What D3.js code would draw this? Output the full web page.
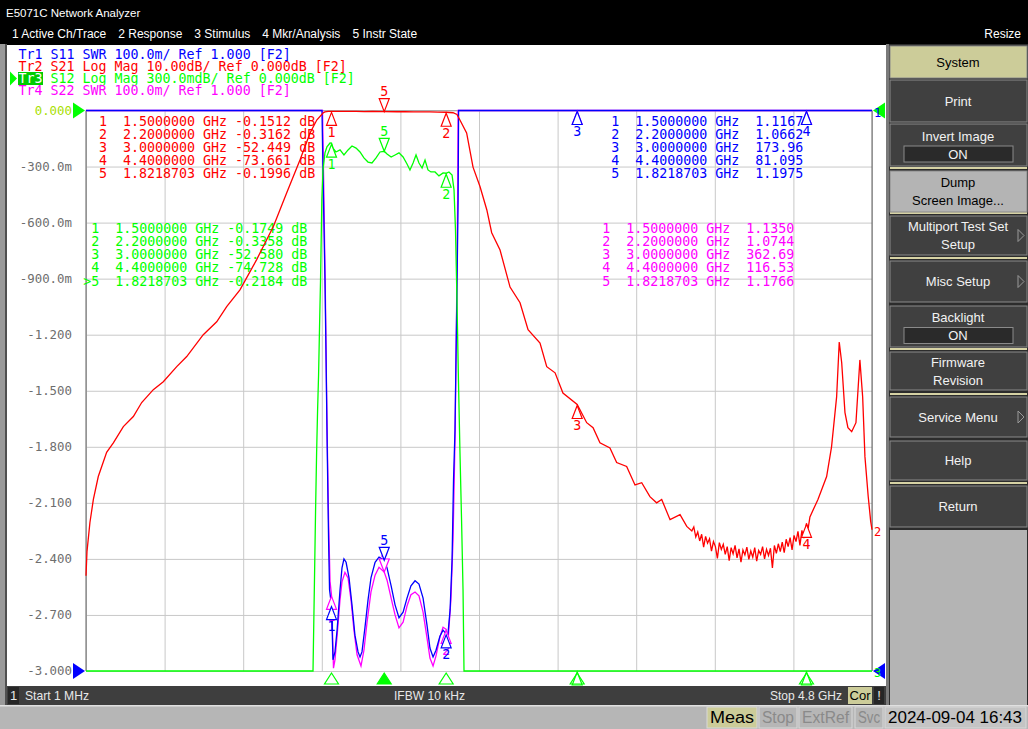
<!DOCTYPE html>
<html>
<head>
<meta charset="utf-8">
<script src="https://cdn.jsdelivr.net/npm/d3@7"></script>
<style>
  body { margin: 0; background: #000; overflow: hidden; }
  svg { display: block; }
  .mono { font-family: "DejaVu Sans Mono", monospace; font-size: 13.3px; white-space: pre; }
  .ui { font-family: "Liberation Sans", Arial, sans-serif; }
  .narrow { font-family: "Liberation Sans Narrow", "Liberation Sans", Arial, sans-serif; }
</style>
</head>
<body>
<svg id="chart"></svg>
<script>
// sweep / scale
const startGHz = 0.001, stopGHz = 4.8;
const yTickValues = [0, -0.3, -0.6, -0.9, -1.2, -1.5, -1.8, -2.1, -2.4, -2.7, -3.0];
const yTickLabels = ["0.000", "-300.0m", "-600.0m", "-900.0m", "-1.200", "-1.500", "-1.800", "-2.100", "-2.400", "-2.700", "-3.000"];

const menuItems = ["1 Active Ch/Trace", "2 Response", "3 Stimulus", "4 Mkr/Analysis", "5 Instr State"];
const traceHeaders = [
  "Tr1 S11 SWR 100.0m/ Ref 1.000 [F2]",
  "Tr2 S21 Log Mag 10.00dB/ Ref 0.000dB [F2]",
  "Tr3 S12 Log Mag 300.0mdB/ Ref 0.000dB [F2]",
  "Tr4 S22 SWR 100.0m/ Ref 1.000 [F2]"
];

// markers
const markerNums = ["1", "2", "3", "4", "5"];
const markerGHz = [1.5, 2.2, 3.0, 4.4, 1.8218703];
const markerFreqText = ["1.5000000", "2.2000000", "3.0000000", "4.4000000", "1.8218703"];
const s11MarkerText = ["1.1167", "1.0662", "173.96", "81.095", "1.1975"];
const s21MarkerText = ["-0.1512", "-0.3162", "-52.449", "-73.661", "-0.1996"];
const s12MarkerText = ["-0.1749", "-0.3358", "-52.580", "-74.728", "-0.2184"];
const s22MarkerText = ["1.1350", "1.0744", "362.69", "116.53", "1.1766"];

// Tr2 S21 [GHz, dB]
const s21 = [
  [0.001, -83.0], [0.007, -78.7], [0.025, -73.5], [0.046, -69.4], [0.076, -65.3], [0.127, -61.0],
  [0.168, -59.3], [0.229, -56.4], [0.290, -54.6], [0.341, -52.1], [0.412, -49.8], [0.473, -48.4],
  [0.555, -45.7], [0.616, -43.9], [0.717, -40.0], [0.799, -37.7], [0.860, -35.0], [0.941, -32.0],
  [1.043, -26.6], [1.145, -20.7], [1.226, -14.7], [1.308, -8.8], [1.369, -4.0], [1.410, -1.7],
  [1.448, -0.45], [1.46, -0.25], [1.48, -0.16], [1.5, -0.1512], [1.55, -0.14], [1.6, -0.17],
  [1.65, -0.16], [1.7, -0.19], [1.75, -0.18], [1.8218703, -0.1996], [1.9, -0.22], [1.95, -0.21],
  [2.0, -0.24], [2.05, -0.23], [2.1, -0.26], [2.15, -0.28], [2.2, -0.3162], [2.242, -0.4],
  [2.266, -0.7], [2.284, -1.7], [2.325, -4.0], [2.364, -10.1], [2.407, -13.6], [2.448, -17.7],
  [2.478, -21.8], [2.529, -24.9], [2.590, -31.5], [2.651, -34.3], [2.700, -39.1], [2.773, -41.5],
  [2.814, -45.7], [2.865, -46.8], [2.913, -50.4], [3.0, -52.449], [3.058, -55.7], [3.097, -56.6],
  [3.139, -59.3], [3.200, -60.2], [3.241, -62.8], [3.302, -63.5], [3.353, -66.8], [3.394, -66.4],
  [3.444, -68.9], [3.485, -70.0], [3.516, -69.4], [3.567, -73.0], [3.628, -72.1], [3.669, -74.2],
  [3.700, -75.0], [3.712, -74.3], [3.724, -76.1], [3.736, -75.2], [3.748, -76.8], [3.760, -75.6],
  [3.772, -77.9], [3.784, -76.0], [3.796, -77.2], [3.808, -76.4], [3.820, -78.6], [3.832, -76.9],
  [3.844, -77.8], [3.856, -79.9], [3.868, -77.1], [3.880, -78.3], [3.892, -77.4], [3.904, -79.2],
  [3.916, -77.8], [3.928, -80.3], [3.940, -78.0], [3.952, -79.1], [3.964, -77.6], [3.976, -79.8],
  [3.988, -78.2], [4.000, -80.6], [4.012, -78.4], [4.024, -79.3], [4.036, -77.9], [4.048, -80.1],
  [4.060, -78.6], [4.072, -79.7], [4.084, -78.0], [4.096, -80.4], [4.108, -78.5], [4.120, -79.2],
  [4.132, -77.8], [4.144, -80.0], [4.156, -78.3], [4.168, -79.4], [4.180, -78.1], [4.192, -81.6],
  [4.204, -77.6], [4.216, -79.0], [4.228, -77.3], [4.240, -78.7], [4.252, -77.0], [4.264, -78.9],
  [4.276, -76.5], [4.288, -77.8], [4.300, -76.2], [4.312, -78.4], [4.324, -75.8], [4.336, -76.9],
  [4.348, -75.1], [4.360, -77.6], [4.372, -74.9], [4.384, -76.3], [4.4, -73.661], [4.410, -74.6],
  [4.421, -72.5], [4.470, -69.4], [4.523, -65.3], [4.553, -60.0], [4.584, -51.1],
  [4.600, -41.3], [4.615, -45.0], [4.635, -53.9], [4.653, -56.6], [4.676, -57.3], [4.702, -55.7],
  [4.726, -44.5], [4.743, -51.1], [4.757, -61.8], [4.777, -68.9], [4.792, -73.3], [4.8, -74.8]
];

// Tr3 S12 [GHz, dB]
const s12 = [
  [0.001, -3.5], [1.387, -3.3], [1.395, -2.566], [1.403, -2.122], [1.409, -1.833], [1.415, -1.603],
  [1.421, -1.416], [1.429, -1.068], [1.433, -0.907], [1.441, -0.479], [1.448, -0.318], [1.46, -0.227],
  [1.472, -0.195], [1.491, -0.174], [1.5, -0.1749], [1.509, -0.201], [1.527, -0.222], [1.552, -0.211],
  [1.576, -0.238], [1.601, -0.211], [1.625, -0.190], [1.650, -0.201], [1.674, -0.222], [1.698, -0.254],
  [1.723, -0.276], [1.747, -0.281], [1.772, -0.254], [1.796, -0.222], [1.8218703, -0.2184],
  [1.839, -0.233], [1.864, -0.249], [1.888, -0.238], [1.912, -0.227], [1.937, -0.249], [1.961, -0.286],
  [1.979, -0.318], [1.998, -0.281], [2.016, -0.238], [2.034, -0.281], [2.053, -0.308], [2.071, -0.265],
  [2.089, -0.318], [2.107, -0.329], [2.132, -0.329], [2.156, -0.350], [2.181, -0.334], [2.2, -0.3358],
  [2.217, -0.329], [2.236, -0.345], [2.248, -0.425], [2.257, -0.640], [2.266, -1.014], [2.275, -1.442],
  [2.284, -1.817], [2.294, -2.192], [2.303, -2.566], [2.309, -3.0], [2.315, -3.5], [4.8, -3.5]
];

// Tr1 S11 [GHz, SWR]
const s11 = [
  [0.001, 3.0], [1.442, 2.05], [1.451, 1.840], [1.460, 1.698], [1.466, 1.573], [1.474, 1.394],
  [1.482, 1.234], [1.488, 1.145], [1.5, 1.1167], [1.509, 1.020], [1.521, 1.034], [1.534, 1.073],
  [1.552, 1.145], [1.564, 1.184], [1.576, 1.200], [1.589, 1.194], [1.607, 1.166], [1.625, 1.118],
  [1.643, 1.064], [1.662, 1.034], [1.674, 1.025], [1.686, 1.034], [1.704, 1.077], [1.723, 1.127],
  [1.741, 1.166], [1.766, 1.194], [1.790, 1.203], [1.8218703, 1.1975], [1.839, 1.184], [1.864, 1.152],
  [1.888, 1.118], [1.912, 1.095], [1.937, 1.105], [1.961, 1.130], [1.985, 1.152], [2.010, 1.161],
  [2.034, 1.155], [2.059, 1.130], [2.083, 1.082], [2.101, 1.041], [2.120, 1.025], [2.138, 1.037],
  [2.162, 1.062], [2.181, 1.073], [2.2, 1.0662], [2.205, 1.046], [2.224, 1.109], [2.236, 1.198],
  [2.245, 1.341], [2.254, 1.430], [2.265, 1.662], [2.273, 1.840], [2.276, 2.0], [2.279, 2.2], [4.8, 3.0]
];

// Tr4 S22 [GHz, SWR]
const s22 = [
  [0.001, 3.0], [1.445, 2.05], [1.454, 1.84], [1.463, 1.66], [1.472, 1.45], [1.482, 1.27],
  [1.491, 1.16], [1.5, 1.135], [1.512, 1.005], [1.521, 1.02], [1.534, 1.062], [1.552, 1.127],
  [1.564, 1.159], [1.582, 1.176], [1.601, 1.166], [1.619, 1.127], [1.637, 1.073], [1.656, 1.029],
  [1.680, 1.009], [1.698, 1.037], [1.717, 1.087], [1.741, 1.141], [1.766, 1.171], [1.790, 1.185],
  [1.8218703, 1.1766], [1.839, 1.162], [1.864, 1.13], [1.888, 1.1], [1.912, 1.077], [1.937, 1.087],
  [1.961, 1.116], [1.985, 1.136], [2.010, 1.141], [2.034, 1.134], [2.059, 1.105], [2.083, 1.059],
  [2.101, 1.023], [2.120, 1.009], [2.138, 1.027], [2.162, 1.061], [2.181, 1.078], [2.2, 1.0744],
  [2.211, 1.052], [2.229, 1.127], [2.242, 1.234], [2.254, 1.412], [2.263, 1.626], [2.270, 1.840],
  [2.273, 2.0], [2.279, 2.3], [4.8, 3.0]
];

const softkeys = [
  { lines: ["System"], kind: "title" },
  { lines: ["Print"] },
  { lines: ["Invert Image"], value: "ON" },
  { lines: ["Dump", "Screen Image..."], kind: "pressed" },
  { lines: ["Multiport Test Set", "Setup"], arrow: true },
  { lines: ["Misc Setup"], arrow: true },
  { lines: ["Backlight"], value: "ON" },
  { lines: ["Firmware", "Revision"] },
  { lines: ["Service Menu"], arrow: true },
  { lines: ["Help"] },
  { lines: ["Return"] }
];

const chanStatus = { ch: "1", start: "Start 1 MHz", ifbw: "IFBW 10 kHz", stop: "Stop 4.8 GHz", cor: "Cor" };
const bottomStatus = ["Meas", "Stop", "ExtRef", "Svc"];
const clockText = "2024-09-04 16:43";

// ---------------------------------------------------------------
const W = 1028, H = 729;
const pLeft = 86, pRight = 872, pTop = 110.5, pBottom = 671;
const C = { s11: "#0000ff", s21: "#ff0000", s12: "#00ff00", s22: "#ff00ff" };

const svg = d3.select("#chart").attr("width", W).attr("height", H);

// window chrome
svg.append("rect").attr("width", W).attr("height", H).attr("fill", "#000");
svg.append("text").attr("class", "ui").attr("x", 6).attr("y", 17)
  .attr("fill", "#fff").style("font-size", "11.5px").text("E5071C Network Analyzer");

let menuX = 12;
menuItems.forEach(m => {
  const t = svg.append("text").attr("class", "ui").attr("x", menuX).attr("y", 38)
    .attr("fill", "#fff").style("font-size", "12px").text(m);
  menuX += t.node().getComputedTextLength() + 12;
});
svg.append("text").attr("class", "ui").attr("x", 1021).attr("y", 38).attr("text-anchor", "end")
  .attr("fill", "#fff").style("font-size", "12px").text("Resize");

svg.append("rect").attr("x", 0).attr("y", 44).attr("width", 6).attr("height", 662).attr("fill", "#9a9a9a");
svg.append("rect").attr("x", 5).attr("y", 44).attr("width", 2).attr("height", 662).attr("fill", "#505050");
svg.append("rect").attr("x", 7).attr("y", 45).attr("width", 879).attr("height", 641).attr("fill", "#fff");

// scales
const x = d3.scaleLinear().domain([startGHz, stopGHz]).range([pLeft, pRight]);
const yLog = d3.scaleLinear().domain([-100, 0]).range([pBottom, pTop]).clamp(true);
const yMdb = d3.scaleLinear().domain([-3, 0]).range([pBottom, pTop]).clamp(true);
const ySwr = d3.scaleLinear().domain([1, 2]).range([pBottom, pTop]).clamp(true);

// grid
const freqGrid = d3.range(11).map(i => startGHz + i * (stopGHz - startGHz) / 10);
const gx = svg.append("g").attr("transform", `translate(0,${pBottom})`)
  .call(d3.axisBottom(x).tickValues(freqGrid).tickSize(-(pBottom - pTop)).tickFormat(""));
gx.select(".domain").remove();
gx.selectAll("line").attr("stroke", "#c8c8c8");

const gy = svg.append("g").attr("transform", `translate(${pLeft},0)`)
  .call(d3.axisLeft(yMdb).tickValues(yTickValues).tickSize(-(pRight - pLeft)).tickPadding(14)
    .tickFormat((d, i) => yTickLabels[i]));
gy.select(".domain").remove();
gy.selectAll("line").attr("stroke", "#c8c8c8");
gy.attr("font-family", null).attr("font-size", null);
gy.selectAll("text").attr("class", "mono").style("font-size", "12.4px")
  .attr("fill", (d, i) => i === 0 ? "#a8e000" : "#6e6e6e");

svg.append("line").attr("x1", pLeft).attr("x2", pRight).attr("y1", pTop).attr("y2", pTop).attr("stroke", "#a8a8a8");
svg.append("line").attr("x1", pLeft).attr("x2", pLeft).attr("y1", pTop).attr("y2", pBottom).attr("stroke", "#606060");
svg.append("line").attr("x1", pRight).attr("x2", pRight).attr("y1", pTop).attr("y2", pBottom).attr("stroke", "#606060");

// reference level arrows
function refArrow(xp, yp, dir, color) {
  const p = dir > 0 ? `M${xp - 12},${yp - 8}L${xp},${yp}L${xp - 12},${yp + 8}Z`
                    : `M${xp + 12},${yp - 8}L${xp},${yp}L${xp + 12},${yp + 8}Z`;
  svg.append("path").attr("d", p).attr("fill", color);
}
refArrow(pLeft - 1, pTop, 1, C.s12);
refArrow(pLeft - 1, pBottom, 1, C.s11);
refArrow(pRight + 1, pTop, -1, C.s12);
refArrow(pRight + 1, pBottom, -1, C.s11);

// marker tables
function table(x0, y0, dy, texts, color, unit, active) {
  texts.forEach((v, i) => {
    const pre = (active && i === 4) ? ">" : "";
    const sep = unit ? " " : "  ";
    const line = markerNums[i] + "  " + markerFreqText[i] + " GHz" + sep + v + (unit ? " " + unit : "");
    svg.append("text").attr("class", "mono")
      .attr("x", x0 - pre.length * 8).attr("y", y0 + i * dy).attr("dominant-baseline", "central")
      .attr("fill", color).text(pre + line);
  });
}
table(99, 121.5, 13.1, s21MarkerText, C.s21, "dB", false);
table(91.2, 228, 13.3, s12MarkerText, C.s12, "dB", true);
table(611.2, 121.5, 13.1, s11MarkerText, C.s11, "", false);
table(602.2, 228, 13.3, s22MarkerText, C.s22, "", false);

// traces (hidden: Tr4 labels that sit exactly under Tr1's at the clipped top edge)
const traces = [
  { data: s22, y: ySwr, color: C.s22, marks: s22MarkerText, num: "4", under: true },
  { data: s11, y: ySwr, color: C.s11, marks: s11MarkerText, num: "1" },
  { data: s21, y: yLog, color: C.s21, marks: s21MarkerText, num: "2" },
  { data: s12, y: yMdb, color: C.s12, marks: s12MarkerText, num: "3" }
];
traces.forEach(t => {
  svg.append("path").datum(t.data)
    .attr("d", d3.line().x(d => x(d[0])).y(d => t.y(d[1])))
    .attr("fill", "none").attr("stroke", t.color).attr("stroke-width", 1.3);
});

// markers on traces
traces.forEach(t => {
  t.marks.forEach((v, i) => {
    const mxp = x(markerGHz[i]), myp = t.y(+v);
    const atTop = myp <= pTop + 0.5, atBottom = myp >= pBottom - 1;
    if (i === 4) {
      svg.append("path").attr("d", `M${mxp - 5},${myp - 13}L${mxp + 5},${myp - 13}L${mxp},${myp}Z`)
        .attr("fill", "#fff").attr("stroke", t.color).attr("stroke-width", 1.2);
      svg.append("text").attr("class", "mono").attr("x", mxp).attr("y", myp - 20)
        .attr("text-anchor", "middle").attr("dominant-baseline", "central").attr("fill", t.color).text(markerNums[i]);
    } else {
      svg.append("path").attr("d", `M${mxp},${myp + 1}L${mxp - 5},${myp + 14}L${mxp + 5},${myp + 14}Z`)
        .attr("fill", "#fff").attr("stroke", t.color).attr("stroke-width", 1.2);
      if (!atBottom && !(t.under && atTop)) {
        svg.append("text").attr("class", "mono").attr("x", mxp).attr("y", myp + 21)
          .attr("text-anchor", "middle").attr("dominant-baseline", "central").attr("fill", t.color).text(markerNums[i]);
      }
    }
  });
  if (!t.under) {
    const last = t.data[t.data.length - 1];
    svg.append("text").attr("class", "mono").style("font-size", "12px")
      .attr("x", pRight + 2).attr("y", t.y(last[1]) + 2).attr("dominant-baseline", "central")
      .attr("fill", t.color).text(t.num);
  }
});

// stimulus marker indicators for the active trace
markerGHz.forEach((f, i) => {
  const xp = x(f);
  svg.append("path").attr("d", `M${xp},${pBottom + 2}L${xp - 7},${pBottom + 13}L${xp + 7},${pBottom + 13}Z`)
    .attr("fill", i === 4 ? C.s12 : "none").attr("stroke", C.s12).attr("stroke-width", 1.2);
});

// trace headers
const headColors = [C.s11, C.s21, C.s12, C.s22];
traceHeaders.forEach((h, i) => {
  const yy = 54.5 + i * 12;
  if (i === 2) {
    svg.append("path").attr("d", `M10,${yy - 7}L17,${yy}L10,${yy + 7}Z`).attr("fill", C.s12);
    svg.append("rect").attr("x", 18).attr("y", yy - 6.5).attr("width", 25).attr("height", 13).attr("fill", "#00cc00");
  }
  svg.append("text").attr("class", "mono")
    .attr("x", 18.5).attr("y", yy).attr("dominant-baseline", "central")
    .attr("fill", i === 2 ? "#fff" : headColors[i]).text(h.slice(0, 3));
  svg.append("text").attr("class", "mono")
    .attr("x", 18.5 + 24).attr("y", yy).attr("dominant-baseline", "central")
    .attr("fill", headColors[i]).text(h.slice(3));
});

// channel status bar
svg.append("rect").attr("x", 7).attr("y", 686).attr("width", 879).attr("height", 19).attr("fill", "#3e3e3e");
svg.append("rect").attr("x", 8).attr("y", 687).attr("width", 11).attr("height", 17).attr("fill", "#262626");
svg.append("text").attr("class", "narrow").attr("x", 13.5).attr("y", 700).attr("text-anchor", "middle")
  .attr("fill", "#e8e8e8").style("font-size", "13px").text(chanStatus.ch);
svg.append("text").attr("class", "narrow").attr("x", 25).attr("y", 700).attr("fill", "#e8e8e8")
  .style("font-size", "13px").attr("textLength", 64).attr("lengthAdjust", "spacingAndGlyphs").text(chanStatus.start);
svg.append("text").attr("class", "narrow").attr("x", 394).attr("y", 700).attr("fill", "#e8e8e8")
  .style("font-size", "13px").attr("textLength", 71).attr("lengthAdjust", "spacingAndGlyphs").text(chanStatus.ifbw);
svg.append("text").attr("class", "narrow").attr("x", 770).attr("y", 700).attr("fill", "#e8e8e8")
  .style("font-size", "13px").attr("textLength", 72).attr("lengthAdjust", "spacingAndGlyphs").text(chanStatus.stop);
svg.append("rect").attr("x", 848).attr("y", 687).attr("width", 24).attr("height", 17).attr("fill", "#cccc99");
svg.append("text").attr("class", "narrow").attr("x", 860).attr("y", 700).attr("text-anchor", "middle")
  .attr("fill", "#000").style("font-size", "13px").text(chanStatus.cor);
svg.append("rect").attr("x", 874).attr("y", 687).attr("width", 10).attr("height", 17).attr("fill", "#262626");
svg.append("text").attr("class", "narrow").attr("x", 879).attr("y", 700).attr("text-anchor", "middle")
  .attr("fill", "#e8e8e8").style("font-size", "13px").text("!");

// bottom status bar
svg.append("rect").attr("x", 0).attr("y", 705).attr("width", W).attr("height", 24).attr("fill", "#b6b6b6");
svg.append("rect").attr("x", 0).attr("y", 705).attr("width", W).attr("height", 1.5).attr("fill", "#e0e0e0");
const boxes = [[707, 50], [759, 38], [799, 53], [855, 28]];
bottomStatus.forEach((s, i) => {
  const [bx, bw] = boxes[i];
  svg.append("rect").attr("x", bx).attr("y", 707).attr("width", bw).attr("height", 21)
    .attr("fill", i === 0 ? "#cccc99" : "#b6b6b6").attr("stroke", "#d8d8d8");
  svg.append("text").attr("class", "narrow").attr("x", bx + bw / 2).attr("y", 723).attr("text-anchor", "middle")
    .attr("fill", i === 0 ? "#000" : "#8a8a8a").style("font-size", "16px")
    .attr("textLength", bw - 6).attr("lengthAdjust", "spacingAndGlyphs").text(s);
});
svg.append("rect").attr("x", 885).attr("y", 707).attr("width", 141).attr("height", 21).attr("fill", "#c4c4c4").attr("stroke", "#d8d8d8");
svg.append("text").attr("class", "narrow").attr("x", 888).attr("y", 723).attr("fill", "#000")
  .style("font-size", "16px").attr("textLength", 134).attr("lengthAdjust", "spacingAndGlyphs").text(clockText);

// softkey panel
svg.append("rect").attr("x", 886).attr("y", 44).attr("width", 142).attr("height", 661).attr("fill", "#2c2c2c");
svg.append("rect").attr("x", 886).attr("y", 44).attr("width", 3).attr("height", 661).attr("fill", "#7a7a7a");
const keyTop = [46, 80, 124, 171, 216, 261, 306, 352, 397, 441, 486];
const keyH = [32, 42, 42, 41, 39, 41, 41, 38, 40, 39, 41];
[168, 213, 258, 349, 394, 483].forEach(ly => {
  svg.append("rect").attr("x", 890).attr("y", ly - 1).attr("width", 137).attr("height", 2).attr("fill", "#d6d2a4");
});
softkeys.forEach((k, i) => {
  const ky = keyTop[i], kh = keyH[i];
  const fill = k.kind === "title" ? "#cccc99" : k.kind === "pressed" ? "#b4b4b4" : "#404040";
  const ink = k.kind ? "#000" : "#f2f2f2";
  svg.append("rect").attr("x", 890).attr("y", ky).attr("width", 137).attr("height", kh)
    .attr("fill", fill).attr("stroke", "#8a8a8a").attr("stroke-width", 1);
  const n = k.lines.length + (k.value ? 1 : 0);
  const y0 = ky + kh / 2 - (n - 1) * 9;
  k.lines.forEach((l, j) => {
    svg.append("text").attr("class", "ui").attr("x", 958).attr("y", y0 + j * 18).attr("dominant-baseline", "central")
      .attr("text-anchor", "middle").attr("fill", ink).style("font-size", "13px").text(l);
  });
  if (k.value) {
    const vy = y0 + k.lines.length * 18;
    svg.append("rect").attr("x", 904).attr("y", vy - 8).attr("width", 109).attr("height", 16)
      .attr("fill", "#2a2a2a").attr("stroke", "#8a8a8a");
    svg.append("text").attr("class", "ui").attr("x", 958).attr("y", vy).attr("dominant-baseline", "central")
      .attr("text-anchor", "middle").attr("fill", "#f2f2f2").style("font-size", "13px").text(k.value);
  }
  if (k.arrow) {
    const ay = ky + kh / 2;
    svg.append("path").attr("d", `M1018,${ay - 6}L1024,${ay}L1018,${ay + 6}Z`)
      .attr("fill", "#404040").attr("stroke", "#9a9a9a");
  }
});
svg.append("rect").attr("x", 890).attr("y", 530).attr("width", 137).attr("height", 175).attr("fill", "#b4b4b4");
</script>
</body>
</html>
